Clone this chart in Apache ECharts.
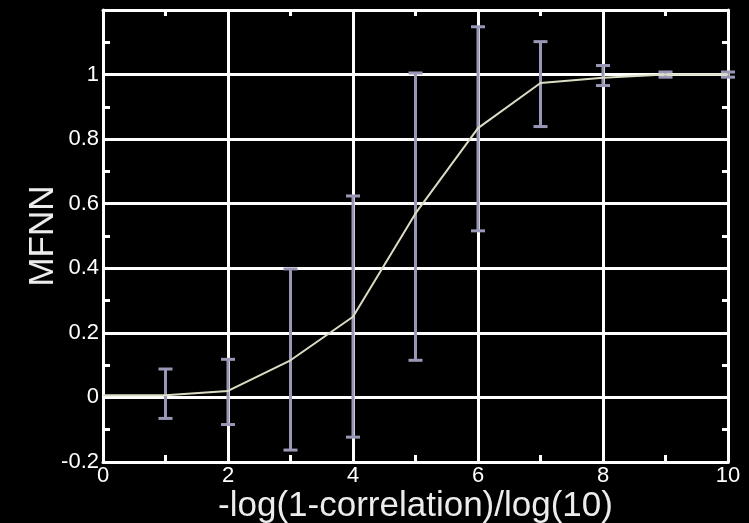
<!DOCTYPE html>
<html>
<head>
<meta charset="utf-8">
<script src="https://cdn.jsdelivr.net/npm/echarts@6/dist/echarts.min.js"></script>
<style>
  html, body { margin: 0; padding: 0; background: #000; }
  #chart { width: 749px; height: 523px; }
</style>
</head>
<body>
<div id="chart"></div>
<script>
// ---- data ----
const xValues   = [0, 1, 2, 3, 4, 5, 6, 7, 8, 9, 10];
const meanMFNN  = [0.007, 0.007, 0.02, 0.115, 0.25, 0.57, 0.834, 0.974, 0.99, 1.0, 1.0];
const errX      = [1, 2, 3, 4, 5, 6, 7, 8, 9, 10];
const errLow    = [-0.065, -0.084, -0.163, -0.123, 0.115, 0.516, 0.839, 0.966, 0.992, 0.992];
const errHigh   = [0.088, 0.118, 0.398, 0.624, 1.005, 1.148, 1.102, 1.028, 1.008, 1.008];
const xTitle = '-log(1-correlation)/log(10)';
const yTitle = 'MFNN';

const white = '#ffffff';
const barColor = '#9898b6';
const lineColor = '#dcdcc4';
const fontFam = 'Liberation Sans, Arial, sans-serif';

const lineData = xValues.map((x, i) => [x, meanMFNN[i]]);
const errData = errX.map((x, i) => [x, errLow[i], errHigh[i]]);

const chart = echarts.init(document.getElementById('chart'), null, { renderer: 'canvas' });

const commonAxis = {
  axisLine: { show: true, onZero: false, lineStyle: { color: white, width: 3 } },
  axisTick: { show: false },
  minorSplitLine: { show: false }
};

function yFmt(v) {
  if (v > 1.1) return '';
  return String(+v.toFixed(1));
}

const option = {
  backgroundColor: '#000000',
  animation: false,
  grid: { left: 103, right: 21, top: 10, bottom: 61, containLabel: false, outerBoundsMode: 'none' },
  xAxis: [
    Object.assign({}, commonAxis, {
      type: 'value', position: 'bottom', min: 0, max: 10, interval: 2,
      minorTick: { show: true, splitNumber: 2, length: -7, lineStyle: { color: white, width: 3 } },
      splitLine: { show: true, lineStyle: { color: white, width: 3 } },
      axisLabel: { color: white, fontSize: 22, fontFamily: fontFam, margin: 3 },
      name: xTitle, nameLocation: 'middle', nameGap: 27, nameMoveOverlap: false,
      nameTextStyle: { color: '#ececec', fontSize: 35, fontFamily: fontFam }
    }),
    Object.assign({}, commonAxis, {
      type: 'value', position: 'top', min: 0, max: 10, interval: 2,
      minorTick: { show: true, splitNumber: 2, length: -6, lineStyle: { color: white, width: 3 } },
      splitLine: { show: false },
      axisLabel: { show: false }
    })
  ],
  yAxis: [
    Object.assign({}, commonAxis, {
      type: 'value', position: 'left', min: -0.2, max: 1.2, interval: 0.2,
      minorTick: { show: true, splitNumber: 2, length: -7, lineStyle: { color: white, width: 3 } },
      splitLine: { show: true, lineStyle: { color: white, width: 3 } },
      axisLabel: { color: white, fontSize: 22, fontFamily: fontFam, margin: 4, formatter: yFmt },
      name: yTitle, nameLocation: 'middle', nameGap: 42, nameRotate: 90, nameMoveOverlap: false,
      nameTextStyle: { color: '#ececec', fontSize: 35, fontFamily: fontFam }
    }),
    Object.assign({}, commonAxis, {
      type: 'value', position: 'right', min: -0.2, max: 1.2, interval: 0.2,
      minorTick: { show: true, splitNumber: 2, length: -6, lineStyle: { color: white, width: 3 } },
      splitLine: { show: false },
      axisLabel: { show: false }
    })
  ],
  series: [
    {
      type: 'custom',
      xAxisIndex: 0, yAxisIndex: 0,
      data: errData,
      encode: { x: 0, y: [1, 2] },
      z: 3,
      renderItem: function (params, api) {
        const x = api.value(0);
        const pLo = api.coord([x, api.value(1)]);
        const pHi = api.coord([x, api.value(2)]);
        const hw = 7;
        const st = { stroke: barColor, lineWidth: 3 };
        return {
          type: 'group',
          children: [
            { type: 'line', shape: { x1: pLo[0], y1: pLo[1], x2: pHi[0], y2: pHi[1] }, style: st },
            { type: 'line', shape: { x1: pLo[0] - hw, y1: pLo[1], x2: pLo[0] + hw, y2: pLo[1] }, style: st },
            { type: 'line', shape: { x1: pHi[0] - hw, y1: pHi[1], x2: pHi[0] + hw, y2: pHi[1] }, style: st }
          ]
        };
      }
    },
    {
      type: 'line',
      xAxisIndex: 0, yAxisIndex: 0,
      data: lineData,
      showSymbol: false,
      symbol: 'none',
      z: 4,
      lineStyle: { color: lineColor, width: 2 }
    }
  ]
};

chart.setOption(option);
</script>
</body>
</html>
